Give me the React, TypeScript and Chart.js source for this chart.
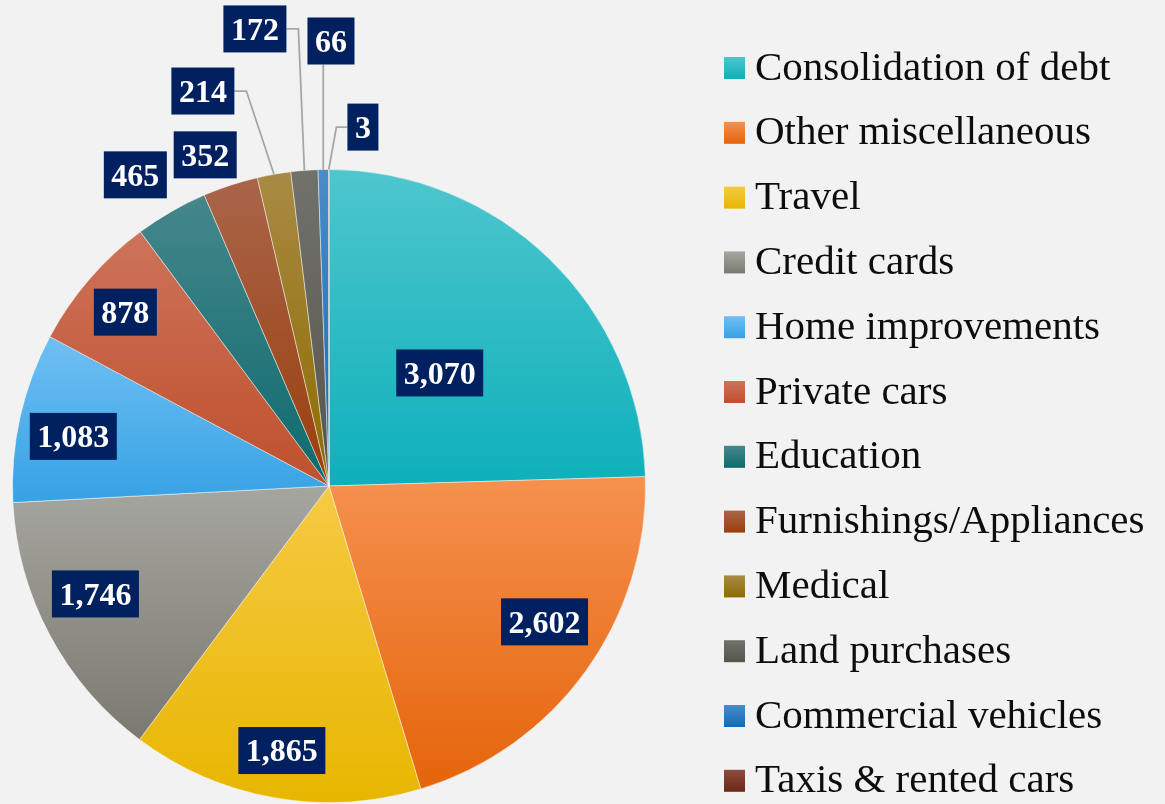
import React, { useEffect, useRef } from "react";
import { Chart, registerables } from "chart.js";

Chart.register(...registerables);

const categories = [
  "Consolidation of debt",
  "Other miscellaneous",
  "Travel",
  "Credit cards",
  "Home improvements",
  "Private cars",
  "Education",
  "Furnishings/Appliances",
  "Medical",
  "Land purchases",
  "Commercial vehicles",
  "Taxis & rented cars",
];

const loanValues = [3070, 2602, 1865, 1746, 1083, 878, 465, 352, 214, 172, 66, 3];

const topColors = [
  "#4ec6cd", "#f5914f", "#f6ca44", "#a6a6a0", "#70bff3", "#cd735a",
  "#45878b", "#a9654a", "#a98a44", "#72726c", "#4a8cc8", "#8c4c3e",
];
const bottomColors = [
  "#0eb0bb", "#e5640a", "#e8b600", "#7a7a70", "#36a2e4", "#bf502c",
  "#0d6a6d", "#9a3e0c", "#8c6c00", "#55554d", "#0f6cb8", "#6c2818",
];

// label placement relative to each slice: radius factor and angle shift (deg) from slice middle
const labelRadius = [0.5, 0.805, 0.849, 0.813, 0.823, 0.846, 1.158, 1.117, 1.31, 1.463, 1.406, 1.139];
const labelAngleShift = [0.25, -3.5, 0.14, 3.3, -1.6, -0.3, -2.0, -2.35, -7.7, -4.75, 1.29, 5.44];
const labelLeader = ["", "", "", "", "", "", "", "", "right", "right", "up", "left"];

const BG = "#f2f2f2";
const LABEL_BOX = "#002060";
const LABEL_FONT = 'bold 32px "Liberation Serif", "Times New Roman", serif';
const LEGEND_FONT = '41px "Liberation Serif", "Times New Roman", serif';

const fmt = (v: number) => v.toLocaleString("en-US");

const decorPlugin = {
  id: "decor",
  beforeDraw(chart: any) {
    const ctx = chart.ctx;
    ctx.save();
    ctx.fillStyle = BG;
    ctx.fillRect(0, 0, chart.width, chart.height);
    ctx.restore();
  },
  beforeDatasetsDraw(chart: any) {
    const ctx = chart.ctx;
    const meta = chart.getDatasetMeta(0);
    meta.data.forEach((arc: any, i: number) => {
      const { x, y, startAngle, endAngle, outerRadius } = arc.getProps(
        ["x", "y", "startAngle", "endAngle", "outerRadius"],
        true
      );
      let minY = y;
      let maxY = y;
      const consider = (a: number) => {
        const py = y + Math.sin(a) * outerRadius;
        minY = Math.min(minY, py);
        maxY = Math.max(maxY, py);
      };
      consider(startAngle);
      consider(endAngle);
      for (let k = -8; k <= 8; k++) {
        const a = (k * Math.PI) / 2;
        if (a > startAngle && a < endAngle) consider(a);
      }
      if (maxY - minY < 1) maxY = minY + 1;
      const g = ctx.createLinearGradient(0, minY, 0, maxY);
      g.addColorStop(0, topColors[i]);
      g.addColorStop(1, bottomColors[i]);
      arc.options = Object.assign({}, arc.options, { backgroundColor: g });
    });
  },
  afterDatasetsDraw(chart: any) {
    const ctx = chart.ctx;
    const meta = chart.getDatasetMeta(0);
    const values = chart.data.datasets[0].data as number[];
    ctx.save();
    ctx.font = LABEL_FONT;
    const boxes: any[] = [];
    meta.data.forEach((arc: any, i: number) => {
      const { x, y, startAngle, endAngle, outerRadius } = arc.getProps(
        ["x", "y", "startAngle", "endAngle", "outerRadius"],
        true
      );
      const mid = (startAngle + endAngle) / 2;
      const a = mid + (labelAngleShift[i] * Math.PI) / 180;
      const cx = x + Math.cos(a) * outerRadius * labelRadius[i];
      const cy = y + Math.sin(a) * outerRadius * labelRadius[i];
      const text = fmt(values[i]);
      const w = ctx.measureText(text).width + 15;
      const h = 47;
      const box = { left: cx - w / 2, right: cx + w / 2, top: cy - h / 2, bottom: cy + h / 2, cx, cy, text };
      boxes.push(box);
      const px = x + Math.cos(mid) * outerRadius;
      const py = y + Math.sin(mid) * outerRadius;
      const kind = labelLeader[i];
      if (kind) {
        ctx.strokeStyle = "#a6a6a6";
        ctx.lineWidth = 1.75;
        ctx.beginPath();
        if (kind === "right") {
          ctx.moveTo(box.right, cy);
          ctx.lineTo(box.right + 12, cy);
          ctx.lineTo(px, py);
        } else if (kind === "left") {
          ctx.moveTo(box.left, cy);
          ctx.lineTo(box.left - 11, cy);
          ctx.lineTo(px, py);
        } else if (kind === "up") {
          ctx.moveTo(px, py);
          ctx.lineTo(px, box.bottom);
        }
        ctx.stroke();
      }
    });
    boxes.forEach((b) => {
      ctx.fillStyle = LABEL_BOX;
      ctx.fillRect(b.left, b.top, b.right - b.left, b.bottom - b.top);
      ctx.fillStyle = "#ffffff";
      ctx.textAlign = "center";
      ctx.textBaseline = "alphabetic";
      ctx.fillText(b.text, b.cx, b.cy + 10.8);
    });
    ctx.restore();
  },
  afterDraw(chart: any) {
    const ctx = chart.ctx;
    const labels = chart.data.labels as string[];
    const legendX = 724;
    const firstY = 68;
    const rowGap = 64.8;
    ctx.save();
    ctx.font = LEGEND_FONT;
    ctx.textAlign = "left";
    ctx.textBaseline = "alphabetic";
    labels.forEach((lab, i) => {
      const yc = firstY + i * rowGap;
      const g = ctx.createLinearGradient(0, yc - 11, 0, yc + 11);
      g.addColorStop(0, topColors[i]);
      g.addColorStop(1, bottomColors[i]);
      ctx.fillStyle = g;
      ctx.fillRect(legendX, yc - 11, 21, 22);
      ctx.fillStyle = "#0d0d0d";
      ctx.fillText(lab, legendX + 31, yc + 11.5);
    });
    ctx.restore();
  },
};

export default function App() {
  const canvasRef = useRef<HTMLCanvasElement | null>(null);

  useEffect(() => {
    if (!canvasRef.current) return;
    const chart = new Chart(canvasRef.current, {
      type: "pie",
      data: {
        labels: categories,
        datasets: [
          {
            data: loanValues,
            backgroundColor: bottomColors,
            borderColor: "rgba(255,255,255,0.45)",
            borderWidth: 1,
            hoverOffset: 0,
            hoverBorderWidth: 1,
          },
        ],
      },
      options: {
        responsive: false,
        animation: false,
        events: [],
        layout: { padding: { left: 12, right: 519, top: 169, bottom: 1 } },
        plugins: {
          legend: { display: false },
          tooltip: { enabled: false },
        },
      },
      plugins: [decorPlugin],
    });
    return () => chart.destroy();
  }, []);

  return (
    <div
      style={{
        position: "fixed",
        left: 0,
        top: 0,
        width: 1165,
        height: 804,
        background: BG,
      }}
    >
      <canvas ref={canvasRef} width={1165} height={804} style={{ display: "block" }} />
    </div>
  );
}
